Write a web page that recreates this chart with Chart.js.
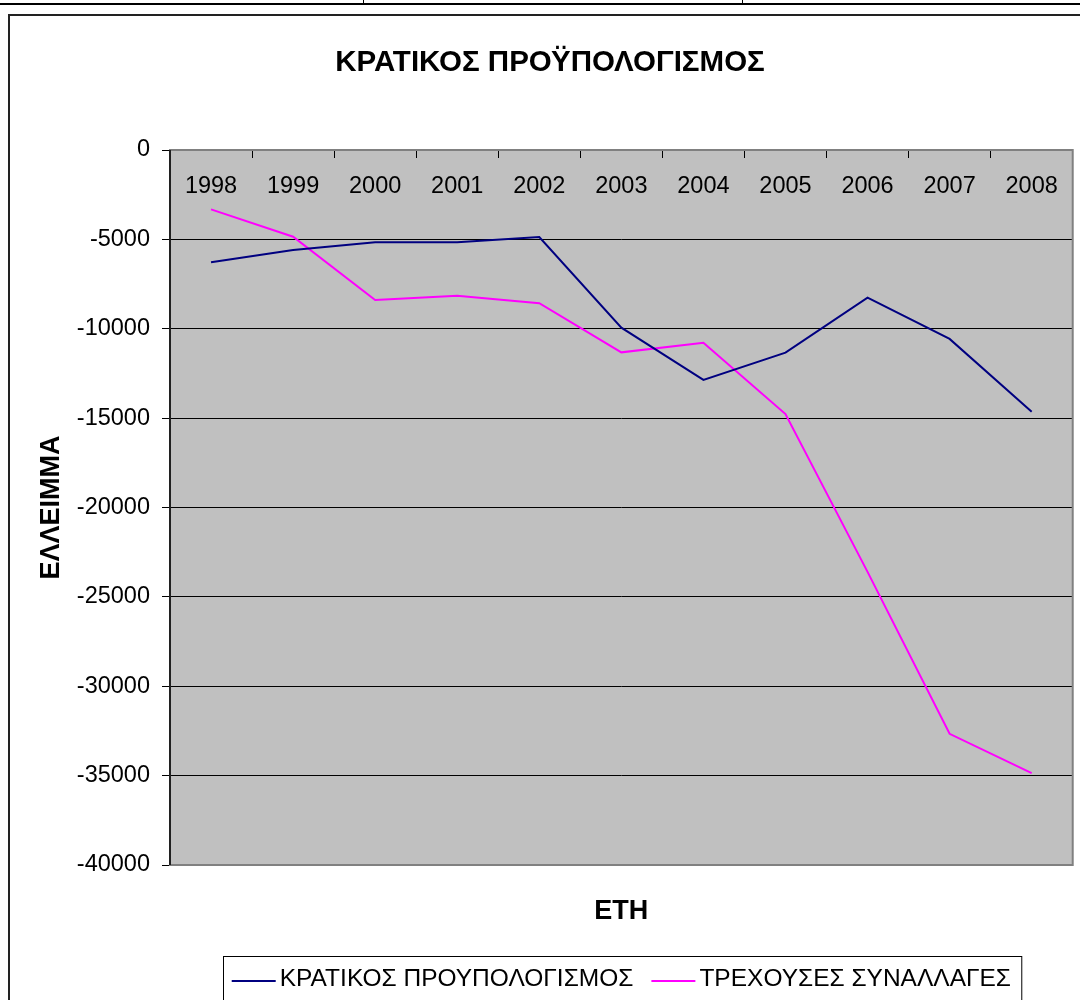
<!DOCTYPE html>
<html>
<head>
<meta charset="utf-8">
<script src="https://cdn.jsdelivr.net/npm/chart.js@4/dist/chart.umd.min.js"></script>
<style>
html,body{margin:0;padding:0;background:#fff;}
canvas{display:block;}
</style>
</head>
<body>
<canvas id="c" width="1080" height="1000"></canvas>
<script>
// ---- data ----
const years = ['1998','1999','2000','2001','2002','2003','2004','2005','2006','2007','2008'];
const stateBudget = [-6280, -5590, -5160, -5160, -4870, -9940, -12860, -11340, -8260, -10570, -14640];
const currentAccount = [-3320, -4850, -8390, -8150, -8570, -11320, -10780, -14770, -23600, -32660, -34860];
const seriesLabels = ['ΚΡΑΤΙΚΟΣ ΠΡΟΥΠΟΛΟΓΙΣΜΟΣ', 'ΤΡΕΧΟΥΣΕΣ ΣΥΝΑΛΛΑΓΕΣ'];
const seriesColors = ['#000080', '#FF00FF'];
const yMin = -40000, yMax = 0, yStep = 5000;
const chartTitle = 'ΚΡΑΤΙΚΟΣ ΠΡΟΫΠΟΛΟΓΙΣΜΟΣ';
const yTitle = 'ΕΛΛΕΙΜΜΑ';
const xTitle = 'ΕΤΗ';

const FONT = '"Liberation Sans", Arial, sans-serif';
Chart.defaults.font.family = FONT;
Chart.defaults.color = '#000';

const framePlugin = {
  id: 'frame',
  beforeDraw(chart) {
    const ctx = chart.ctx, a = chart.chartArea;
    ctx.save();
    ctx.fillStyle = '#fff';
    ctx.fillRect(0, 0, chart.width, chart.height);
    // page table line at top
    ctx.fillStyle = '#000';
    ctx.fillRect(0, 3, chart.width, 2);
    ctx.fillRect(363, 0, 1, 4);
    ctx.fillRect(742, 0, 1, 4);
    // chart frame
    ctx.fillStyle = '#222';
    ctx.fillRect(8, 14, chart.width, 2);
    ctx.fillRect(8, 14, 2, chart.height);
    // plot area background
    ctx.fillStyle = '#C0C0C0';
    ctx.fillRect(a.left, a.top, a.right - a.left, a.bottom - a.top);
    ctx.restore();
  },
  beforeDatasetsDraw(chart) {
    const ctx = chart.ctx, a = chart.chartArea;
    ctx.save();
    ctx.strokeStyle = '#808080';
    ctx.lineWidth = 2;
    ctx.strokeRect(a.left, a.top, a.right - a.left, a.bottom - a.top);
    ctx.strokeStyle = '#000';
    ctx.lineWidth = 1.5;
    ctx.beginPath();
    ctx.moveTo(a.left, a.top);
    ctx.lineTo(a.left, a.bottom);
    ctx.stroke();
    ctx.restore();
  },
  afterDraw(chart) {
    // legend box
    const ctx = chart.ctx, a = chart.chartArea;
    const cx = (a.left + a.right) / 2;
    ctx.save();
    ctx.font = '24.5px ' + FONT;
    const items = chart.data.datasets.map(ds => ({
      label: ds.label, color: ds.borderColor, w: ctx.measureText(ds.label).width
    }));
    const lineW = 44, gap = 4, itemGap = 18;
    let total = 0;
    items.forEach((it, i) => { total += lineW + gap + it.w + (i > 0 ? itemGap : 0); });
    let x = cx - total / 2;
    const top = chart.height - 44;
    const cy = top + 23.5;
    ctx.strokeStyle = '#000';
    ctx.lineWidth = 1;
    ctx.strokeRect(Math.round(x - 9) + 0.5, top + 0.5, total + 19, 100);
    ctx.textBaseline = 'middle';
    ctx.textAlign = 'left';
    items.forEach((it, i) => {
      if (i > 0) x += itemGap;
      ctx.strokeStyle = it.color;
      ctx.lineWidth = 2;
      ctx.beginPath();
      ctx.moveTo(x, cy + 1.5);
      ctx.lineTo(x + lineW, cy + 1.5);
      ctx.stroke();
      x += lineW + gap;
      ctx.fillStyle = '#000';
      ctx.fillText(it.label, x, cy);
      x += it.w;
    });
    ctx.restore();
  }
};

new Chart(document.getElementById('c'), {
  type: 'line',
  data: {
    labels: years,
    datasets: [
      { label: seriesLabels[0], data: stateBudget, borderColor: seriesColors[0], backgroundColor: seriesColors[0],
        borderWidth: 2, pointRadius: 0, tension: 0, fill: false },
      { label: seriesLabels[1], data: currentAccount, borderColor: seriesColors[1], backgroundColor: seriesColors[1],
        borderWidth: 2, pointRadius: 0, tension: 0, fill: false }
    ]
  },
  options: {
    responsive: false,
    animation: false,
    layout: { padding: { top: 16, left: 24, right: 4, bottom: 65 } },
    plugins: {
      legend: { display: false },
      tooltip: { enabled: false },
      title: {
        display: true, text: chartTitle, color: '#000',
        font: { size: 29.5, weight: 'bold' },
        padding: { top: 29.3, bottom: 69.3 }
      }
    },
    scales: {
      x: {
        position: 'top',
        offset: true,
        ticks: { mirror: true, padding: 22, font: { size: 23.5 }, color: '#000', maxRotation: 0, autoSkip: false },
        grid: { drawOnChartArea: false, drawTicks: true, tickLength: -8, tickColor: '#000', offset: true },
        border: { display: false },
        afterFit(s) { s.height = 0; }
      },
      x2: {
        type: 'category',
        position: 'bottom',
        display: true,
        ticks: { display: false },
        grid: { display: false, drawTicks: false },
        border: { display: false },
        title: { display: true, text: xTitle, color: '#000', font: { size: 27, weight: 'bold' }, padding: { top: 0, bottom: 7 } },
        afterFit(s) { s.height = 70; }
      },
      y: {
        min: yMin, max: yMax,
        ticks: { stepSize: yStep, padding: 12, font: { size: 23.5 }, color: '#000', callback: v => String(v) },
        grid: { color: '#000', lineWidth: 1, tickLength: 8, tickColor: '#000', drawTicks: true },
        border: { display: false },
        title: { display: true, text: yTitle, color: '#000', font: { size: 27, weight: 'bold' }, padding: { top: 11, bottom: 0 } },
        afterFit(s) { s.width = 146; }
      }
    }
  },
  plugins: [framePlugin]
});
</script>
</body>
</html>
